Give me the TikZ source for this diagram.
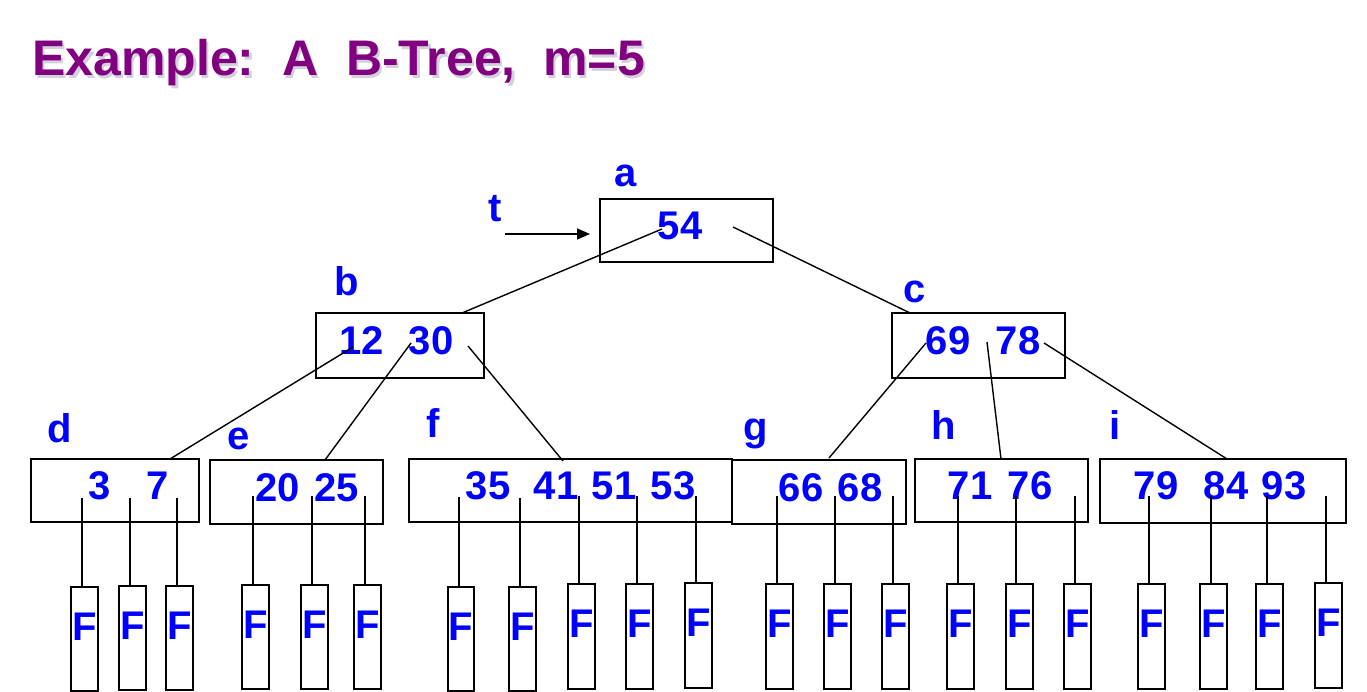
\documentclass[tikz,border=0pt]{standalone}
\usepackage{fontspec}
\setmainfont{Liberation Sans}
\usetikzlibrary{arrows.meta}
\definecolor{kblue}{RGB}{0,0,255}
\definecolor{tpurple}{RGB}{128,0,128}
\definecolor{tshadow}{RGB}{210,208,218}
\tikzset{
  box/.style={draw=black, line width=2pt, inner sep=0pt, outer sep=0pt},
  leafbox/.style={draw=black, line width=2pt, inner sep=0pt, outer sep=0pt},
  key/.style={font=\fontsize{40}{40}\selectfont\bfseries, text=kblue, inner sep=0pt, anchor=base},
  lbl/.style={font=\fontsize{40}{40}\selectfont\bfseries, text=kblue, inner sep=0pt, anchor=base},
  conn/.style={draw=black, line width=1.4pt},
  titlestyle/.style={font=\fontsize{50}{50}\selectfont\bfseries, inner sep=0pt, anchor=base west}
}
\begin{document}
\begin{tikzpicture}[x=1pt,y=-1pt]
\useasboundingbox (0,0) rectangle (1367,692);
% title
\node[titlestyle, text=tshadow] (titleshadow) at (34.5,78.5) {Example:\ \ A\ \ B-Tree,\ \ m=5};
\node[titlestyle, text=tpurple] (title) at (32,76) {Example:\ \ A\ \ B-Tree,\ \ m=5};

% internal boxes
\node[box, minimum width=173, minimum height=63] (a) at (686.5,230.5) {};
\node[box, minimum width=168, minimum height=65] (b) at (400,345.5) {};
\node[box, minimum width=173, minimum height=65] (c) at (978.5,345.5) {};
\node[box, minimum width=168, minimum height=63] (d) at (115,490.5) {};
\node[box, minimum width=173, minimum height=64] (e) at (296.5,492) {};
\node[box, minimum width=323, minimum height=63] (f) at (570,490.5) {};
\node[box, minimum width=174, minimum height=64] (g) at (819,492) {};
\node[box, minimum width=173, minimum height=63] (h) at (1001.5,490.5) {};
\node[box, minimum width=246, minimum height=64] (i) at (1223,491) {};

% node labels
\node[lbl] (la) at (626,187) {a};
\node[lbl] (lb) at (347,296) {b};
\node[lbl] (lc) at (915,303) {c};
\node[lbl] (ld) at (60,442) {d};
\node[lbl] (le) at (239,449) {e};
\node[lbl] (lf) at (433,437) {f};
\node[lbl] (lg) at (756,440) {g};
\node[lbl] (lh) at (944,439) {h};
\node[lbl] (li) at (1115,439) {i};
\node[lbl] (lt) at (495,222) {t};

% keys
\node[key] (k54) at (680,240) {54};
\node[key] (k12) at (362,354) {12};
\node[key] (k30) at (431,354) {30};
\node[key] (k69) at (948,354) {69};
\node[key] (k78) at (1018,354) {78};
\node[key] (k3) at (100,499) {3};
\node[key] (k7) at (158,499) {7};
\node[key] (k20) at (278,501) {20};
\node[key] (k25) at (337,501) {25};
\node[key] (k35) at (488,499) {35};
\node[key] (k41) at (556,499) {41};
\node[key] (k51) at (614,499) {51};
\node[key] (k53) at (673,499) {53};
\node[key] (k66) at (801,501) {66};
\node[key] (k68) at (860,501) {68};
\node[key] (k71) at (970,499) {71};
\node[key] (k76) at (1030,499) {76};
\node[key] (k79) at (1156,499) {79};
\node[key] (k84) at (1226,499) {84};
\node[key] (k93) at (1284,499) {93};

% pointer t
\coordinate (tstart) at (505,234);
\coordinate (tend) at (590,234);
\draw[conn, -{Triangle[length=13pt,width=11pt]}] (tstart) -- (tend);

% tree connectors
\coordinate (pa1) at (662,229);  \coordinate (bt) at (462,313);
\coordinate (pa2) at (733,227);  \coordinate (ct) at (910,313);
\coordinate (pb1) at (353,347);  \coordinate (dt) at (170,459);
\coordinate (pb2) at (411,343);  \coordinate (et) at (325,460);
\coordinate (pb3) at (468,346);  \coordinate (ft) at (563,461);
\coordinate (pc1) at (926,343);  \coordinate (gt) at (829,458);
\coordinate (pc2) at (987,342);  \coordinate (ht) at (1001,459);
\coordinate (pc3) at (1044,343); \coordinate (it) at (1227,459);
\draw[conn] (pa1) -- (bt);
\draw[conn] (pa2) -- (ct);
\draw[conn] (pb1) -- (dt);
\draw[conn] (pb2) -- (et);
\draw[conn] (pb3) -- (ft);
\draw[conn] (pc1) -- (gt);
\draw[conn] (pc2) -- (ht);
\draw[conn] (pc3) -- (it);

% leaves
\foreach \xa/\xb/\ya/\yb/\px/\py [count=\n] in {
  71/98/587/691/82/498, 119/146/586/690/130/498, 166/193/586/690/177/498,
  242/269/585/689/253/496, 301/328/585/689/312/496, 354/381/585/689/365/496,
  448/474/587/691/459/497, 509/536/587/691/520/498, 568/595/584/689/579/496, 626/653/584/689/637/496, 685/712/583/688/696/496,
  766/793/584/689/777/496, 824/851/584/689/835/496, 882/909/584/689/893/496,
  947/974/584/689/958/496, 1006/1033/584/689/1016/496, 1064/1091/584/689/1075/496,
  1138/1165/584/689/1149/496, 1200/1227/584/689/1211/496, 1256/1283/584/689/1267/496, 1315/1342/583/688/1326/496}
{
  \node[leafbox, minimum width={\xb-\xa}, minimum height={\yb-\ya}] (L\n) at ({(\xa+\xb)/2},{(\ya+\yb)/2}) {};
  \node[key] (F\n) at ({(\xa+\xb)/2},{\ya+53}) {F};
  \coordinate (P\n) at (\px,\py);
  \draw[conn] (P\n) -- (P\n |- L\n.north);
}
\end{tikzpicture}
\end{document}
